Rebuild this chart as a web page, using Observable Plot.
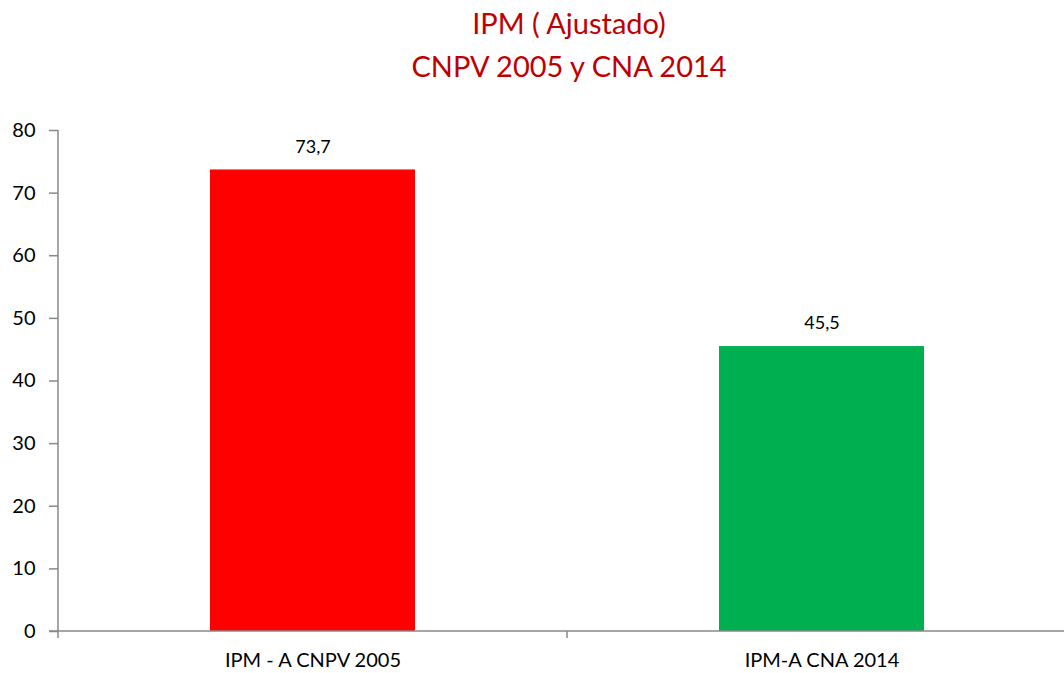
<!DOCTYPE html>
<html>
<head>
<meta charset="utf-8">
<script src="https://cdn.jsdelivr.net/npm/d3@7"></script>
<script src="https://cdn.jsdelivr.net/npm/@observablehq/plot@0.6"></script>
<style>
  html, body { margin: 0; padding: 0; background: #fff; }
  #title { width: 1064px; height: 100px; text-align: center; color: #C00000;
    font-family: Lato, "Liberation Sans", sans-serif; font-size: 29px; line-height: 43px;
    padding-top: 1px; box-sizing: border-box; position: relative; left: 37px; }
  #chart { width: 1064px; }
</style>
</head>
<body>
<div id="title">IPM ( Ajustado)<br>CNPV 2005 y CNA 2014</div>
<div id="chart"></div>
<script>
const categories = ["IPM - A CNPV 2005", "IPM-A CNA 2014"];
const values = [73.7, 45.5];
const colors = ["#FF0000", "#00B050"];
const yTicks = [0, 10, 20, 30, 40, 50, 60, 70, 80];

const data = categories.map((c, i) => ({ cat: c, value: values[i], color: colors[i] }));
const fmt = v => String(v).replace(".", ",");

const xRange = [58, 1076];
const step = (xRange[1] - xRange[0]) / categories.length;

const plot = Plot.plot({
  width: 1064,
  height: 573,
  marginTop: 30,
  marginBottom: 42,
  marginLeft: 58,
  marginRight: 0,
  style: { fontFamily: "Lato, 'Liberation Sans', sans-serif", fontSize: "18px", color: "#000", background: "#fff", overflow: "visible" },
  x: { domain: categories, range: xRange, paddingInner: 0.597, paddingOuter: 0.2985, label: null },
  y: { domain: [0, 80], label: null },
  marks: [
    Plot.barY(data, { x: "cat", y: "value", fill: "color" }),
    Plot.axisY({ ticks: yTicks, tickSize: 9, tickPadding: 14, stroke: "#888", strokeWidth: 1.5, fontSize: 20, tickFormat: d => d }),
    Plot.axisX({ tickSize: 0, tickPadding: 21, fontSize: 20 }),
    Plot.text(data, { x: "cat", y: "value", text: d => fmt(d.value), dy: -23, fontSize: 18, fill: "#000" })
  ]
});

// axis lines and category boundary tick
const svg = d3.select(plot);
const yScale = plot.scale("y");
const y0 = yScale.apply(0);
const yTop = yScale.apply(80);
svg.append("line").attr("x1", xRange[0]).attr("x2", xRange[0]).attr("y1", yTop).attr("y2", y0 + 7)
  .attr("stroke", "#888").attr("stroke-width", 1.5);
svg.append("line").attr("x1", 49).attr("x2", 1064).attr("y1", y0).attr("y2", y0)
  .attr("stroke", "#888").attr("stroke-width", 1.5);
svg.append("line").attr("x1", xRange[0] + step).attr("x2", xRange[0] + step)
  .attr("y1", y0).attr("y2", y0 + 7).attr("stroke", "#888").attr("stroke-width", 1.5);
document.getElementById("chart").appendChild(plot);
</script>
</body>
</html>
